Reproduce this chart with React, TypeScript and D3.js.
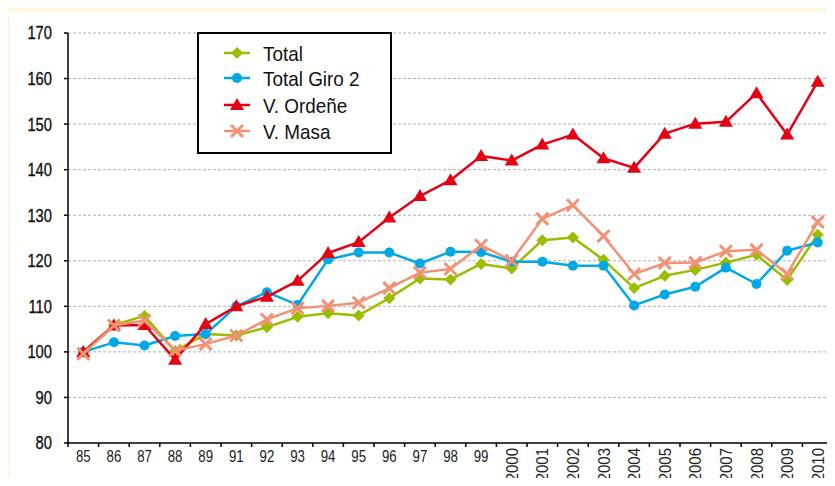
import * as d3 from "d3"

const years = ["85", "86", "87", "88", "89", "91", "92", "93", "94", "95", "96", "97", "98", "99", "2000", "2001", "2002", "2003", "2004", "2005", "2006", "2007", "2008", "2009", "2010"]

const total = [100, 105.9, 107.9, 100.2, 103.9, 103.6, 105.4, 107.7, 108.5, 108, 111.8, 116.1, 115.9, 119.3, 118.3, 124.5, 125.1, 120.2, 114, 116.7, 118, 119.6, 121.3, 115.8, 125.7]
const totalGiro2 = [100, 102.1, 101.4, 103.5, 103.9, 110, 113.1, 110.3, 120.3, 121.8, 121.8, 119.4, 122, 121.9, 119.8, 119.8, 118.9, 118.9, 110.2, 112.6, 114.3, 118.5, 114.9, 122.2, 124]
const vOrdene = [100, 105.8, 105.9, 98.3, 106.1, 110, 112.1, 115.6, 121.7, 124.1, 129.5, 134.2, 137.7, 143, 142, 145.5, 147.7, 142.5, 140.4, 147.9, 150.1, 150.5, 156.8, 147.7, 159.3]
const vMasa = [99.6, 105.8, 106.9, 100.3, 101.7, 103.6, 107.1, 109.6, 110.1, 110.8, 114, 117.4, 118.2, 123.4, 120, 129.2, 132.2, 125.4, 117.1, 119.5, 119.6, 122.1, 122.4, 117.1, 128.5]

const yTicks = [80, 90, 100, 110, 120, 130, 140, 150, 160, 170]

const series = [
  { name: "Total", values: total, color: "#9bbd00", marker: "diamond" },
  { name: "Total Giro 2", values: totalGiro2, color: "#00a9e6", marker: "circle" },
  { name: "V. Ordeñe", values: vOrdene, color: "#e60012", marker: "triangle" },
  { name: "V. Masa", values: vMasa, color: "#f29176", marker: "cross" },
]

const font = "'Liberation Sans', Arial, sans-serif"

function Marker({ type, x, y, color }) {
  if (type === "diamond") {
    const s = 6
    return <path d={`M${x},${y - s}L${x + s},${y}L${x},${y + s}L${x - s},${y}Z`} fill={color} />
  }
  if (type === "circle") return <circle cx={x} cy={y} r={5} fill={color} />
  if (type === "triangle") {
    return <path d={`M${x},${y - 7}L${x + 7},${y + 5}L${x - 7},${y + 5}Z`} fill={color} />
  }
  const s = 6
  return (
    <path d={`M${x - s},${y - s}L${x + s},${y + s}M${x - s},${y + s}L${x + s},${y - s}`} stroke={color} strokeWidth={3} fill="none" />
  )
}

export default function App() {
  const width = 835
  const height = 486
  const left = 68
  const right = 833
  const top = 33
  const bottom = 443

  const x = d3.scaleBand().domain(years).range([left, right])
  const y = d3.scaleLinear().domain([80, 170]).range([bottom, top])

  const line = d3
    .line<number>()
    .x((_, i) => x(years[i])! + x.bandwidth() / 2)
    .y((d) => y(d))

  const boundaries = years.map((yr) => x(yr)!).concat([right])

  return (
    <div style={{ margin: -8 }}>
      <svg width={width} height={height} style={{ display: "block", fontFamily: font }}>
        <rect x={0} y={0} width={width} height={height} fill="#fef9dc" />
        <rect x={10} y={12} width={width - 10} height={height - 12} fill="#ffffff" />

        {/* grid */}
        {yTicks.slice(1).map((t) => (
          <line key={t} x1={left} x2={right} y1={y(t)} y2={y(t)} stroke="#b0b0b0" strokeWidth={1} strokeDasharray="3,2" />
        ))}

        {/* y axis */}
        <line x1={left} x2={left} y1={top} y2={bottom} stroke="#000" strokeWidth={1.5} />
        {yTicks.map((t) => (
          <g key={t}>
            <line x1={left - 4} x2={left} y1={y(t)} y2={y(t)} stroke="#000" strokeWidth={1.5} />
            <text
              transform={`translate(52,${y(t)}) scale(0.82,1)`}
              dy="0.36em"
              textAnchor="end"
              fontSize={18}
              fill="#111"
              stroke="#111"
              strokeWidth={0.35}
            >
              {t}
            </text>
          </g>
        ))}

        {/* x axis */}
        <line x1={left} x2={right} y1={bottom} y2={bottom} stroke="#000" strokeWidth={1.5} />
        {boundaries.map((b, i) => (
          <line key={i} x1={b} x2={b} y1={bottom} y2={bottom + 4} stroke="#000" strokeWidth={1.5} />
        ))}
        {years.map((yr) => {
          const cx = x(yr)! + x.bandwidth() / 2
          if (yr.length > 2) {
            return (
              <text key={yr} transform={`translate(${cx + 6},${448}) rotate(-90) scale(0.88,1)`} textAnchor="end" fontSize={17} fill="#222">
                {yr}
              </text>
            )
          }
          return (
            <text key={yr} transform={`translate(${cx},${462}) scale(0.78,1)`} textAnchor="middle" fontSize={17} fill="#222">
              {yr}
            </text>
          )
        })}

        {/* series */}
        {series.map((s) => (
          <g key={s.name}>
            <path d={line(s.values)!} fill="none" stroke={s.color} strokeWidth={2.5} strokeLinejoin="round" />
            {s.values.map((v, i) => (
              <Marker key={i} type={s.marker} x={x(years[i])! + x.bandwidth() / 2} y={y(v)} color={s.color} />
            ))}
          </g>
        ))}

        {/* legend */}
        <rect x={198} y={33} width={193} height={120} fill="#fff" stroke="#000" strokeWidth={2} />
        {series.map((s, i) => {
          const ly = [53, 78, 105, 131][i]
          return (
            <g key={s.name}>
              <line x1={224} x2={250} y1={ly} y2={ly} stroke={s.color} strokeWidth={2.5} />
              <Marker type={s.marker} x={237} y={ly} color={s.color} />
              <text transform={`translate(263,${ly}) scale(0.9,1)`} dy="0.36em" fontSize={21} fill="#111">
                {s.name}
              </text>
            </g>
          )
        })}
      </svg>
    </div>
  )
}
